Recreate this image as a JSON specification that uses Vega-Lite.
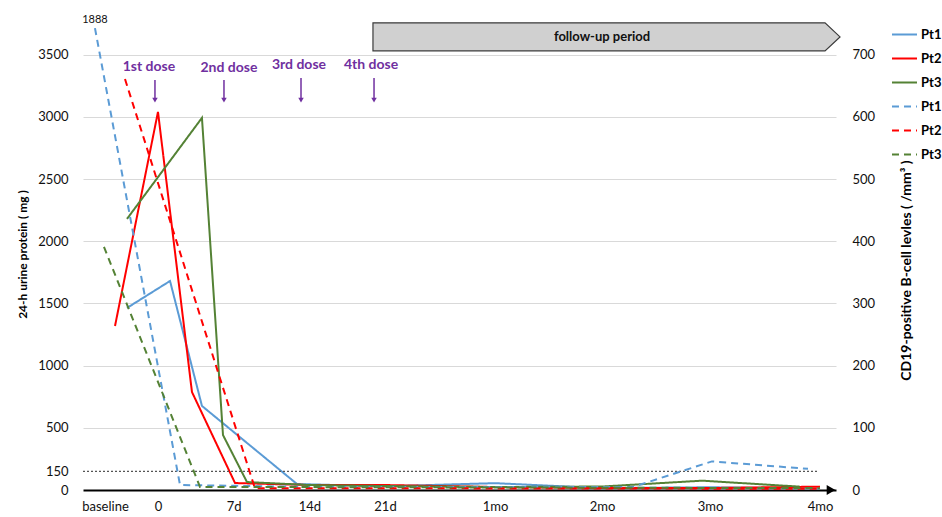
{
  "$schema": "https://vega.github.io/schema/vega-lite/v6.json",
  "width": 753,
  "height": 470,
  "autosize": {"type": "none"},
  "padding": {"left": 83, "top": 20, "right": 106, "bottom": 27},
  "config": {"view": {"stroke": null}, "font": "Lato", "background": "white"},
  "datasets": {
    "lines": [
      {"series": "Pt1 u", "t": -0.41, "value": 1464},
      {"series": "Pt1 u", "t": 0.159, "value": 1681},
      {"series": "Pt1 u", "t": 0.581, "value": 676},
      {"series": "Pt1 u", "t": 1.837, "value": 48},
      {"series": "Pt1 u", "t": 3, "value": 30},
      {"series": "Pt1 u", "t": 4.454, "value": 55},
      {"series": "Pt1 u", "t": 5.868, "value": 15},
      {"series": "Pt1 u", "t": 7.295, "value": 22},
      {"series": "Pt1 u", "t": 8.749, "value": 12},
      {"series": "Pt2 u", "t": -0.568, "value": 1319},
      {"series": "Pt2 u", "t": 0, "value": 3041},
      {"series": "Pt2 u", "t": 0.449, "value": 788},
      {"series": "Pt2 u", "t": 1.018, "value": 56},
      {"series": "Pt2 u", "t": 2, "value": 40},
      {"series": "Pt2 u", "t": 3, "value": 40},
      {"series": "Pt2 u", "t": 4.454, "value": 24},
      {"series": "Pt2 u", "t": 5.868, "value": 16},
      {"series": "Pt2 u", "t": 7.295, "value": 16},
      {"series": "Pt2 u", "t": 8.749, "value": 27},
      {"series": "Pt3 u", "t": -0.41, "value": 2180},
      {"series": "Pt3 u", "t": 0.581, "value": 2993},
      {"series": "Pt3 u", "t": 0.859, "value": 442},
      {"series": "Pt3 u", "t": 1.176, "value": 64},
      {"series": "Pt3 u", "t": 2, "value": 40},
      {"series": "Pt3 u", "t": 3, "value": 32},
      {"series": "Pt3 u", "t": 4.454, "value": 24},
      {"series": "Pt3 u", "t": 5.868, "value": 28},
      {"series": "Pt3 u", "t": 7.19, "value": 75},
      {"series": "Pt3 u", "t": 8.48, "value": 27}
    ],
    "bcell": [
      {"series": "Pt1 b", "t": -0.833, "value": 743},
      {"series": "Pt1 b", "t": 0.291, "value": 8},
      {"series": "Pt1 b", "t": 2, "value": 5},
      {"series": "Pt1 b", "t": 6.28, "value": 5},
      {"series": "Pt1 b", "t": 7.32, "value": 46},
      {"series": "Pt1 b", "t": 8.59, "value": 34},
      {"series": "Pt2 b", "t": -0.436, "value": 661},
      {"series": "Pt2 b", "t": 1.28, "value": 3},
      {"series": "Pt2 b", "t": 8.749, "value": 2},
      {"series": "Pt3 b", "t": -0.714, "value": 391},
      {"series": "Pt3 b", "t": 0.555, "value": 5},
      {"series": "Pt3 b", "t": 8.749, "value": 3}
    ],
    "doses": [
      {"label": "1st dose", "t": -0.119, "ty": 3403, "at": -0.04, "a1": 3298, "a2": 3135},
      {"label": "2nd dose", "t": 0.938, "ty": 3395, "at": 0.872, "a1": 3298, "a2": 3135},
      {"label": "3rd dose", "t": 1.863, "ty": 3419, "at": 1.89, "a1": 3314, "a2": 3135},
      {"label": "4th dose", "t": 2.815, "ty": 3419, "at": 2.855, "a1": 3314, "a2": 3135}
    ],
    "followup": [
      {"t": 2.841, "top": 3757, "bot": 3532},
      {"t": 8.815, "top": 3757, "bot": 3532},
      {"t": 9.013, "top": 3644, "bot": 3644}
    ]
  },
  "layer": [
    {
      "layer": [
        {
          "data": {"name": "lines"},
          "mark": {"type": "line", "strokeWidth": 2},
          "encoding": {
            "x": {
              "field": "t", "type": "quantitative",
              "scale": {"domain": [-0.991, 8.96], "nice": false, "zero": false},
              "axis": {
                "values": [-0.7, 0, 1, 2, 3, 4.454, 5.868, 7.295, 8.749],
                "labelExpr": "datum.value < -0.5 ? 'baseline' : datum.value < 0.5 ? '0' : datum.value < 1.5 ? '7d' : datum.value < 2.5 ? '14d' : datum.value < 3.5 ? '21d' : datum.value < 5 ? '1mo' : datum.value < 6.5 ? '2mo' : datum.value < 8 ? '3mo' : '4mo'",
                "title": null, "ticks": false, "grid": false,
                "domainColor": "#000000", "domainWidth": 2,
                "labelFont": "Lato", "labelFontSize": 13, "labelColor": "#111111",
                "labelPadding": 10, "labelFlush": false, "labelOverlap": false
              }
            },
            "y": {
              "field": "value", "type": "quantitative",
              "scale": {"domain": [0, 3780], "nice": false, "zero": false},
              "axis": {
                "orient": "left",
                "values": [0, 150, 500, 1000, 1500, 2000, 2500, 3000, 3500],
                "format": "d",
                "title": "24-h urine protein ( mg )",
                "titleFont": "Lato", "titleFontSize": 12, "titleFontWeight": "bold", "titleColor": "#000000",
                "titleAngle": -90, "titleBaseline": "middle", "titleAlign": "center", "titleX": -61, "titleY": 234,
                "labelFont": "Lato", "labelFontSize": 13, "labelColor": "#111111",
                "ticks": false, "domain": false, "labelPadding": 15, "labelOverlap": false,
                "grid": true, "gridWidth": 1,
                "gridColor": {"condition": {"test": "datum.value < 400", "value": "transparent"}, "value": "#d9d9d9"}
              }
            },
            "color": {
              "field": "series", "type": "nominal",
              "scale": {"domain": ["Pt1 u", "Pt2 u", "Pt3 u", "Pt1 b", "Pt2 b", "Pt3 b"], "range": ["#5b9bd5", "#ff0000", "#548235", "#5b9bd5", "#ff0000", "#548235"]},
              "legend": {"title": null, "orient": "none", "legendX": 808, "legendY": 1, "direction": "vertical", "symbolType": "stroke", "symbolSize": 625, "symbolStrokeWidth": 2, "labelFont": "Lato", "labelFontSize": 13, "labelFontWeight": "bold", "labelColor": "#000000", "rowPadding": 3, "labelOffset": 3, "labelExpr": "slice(datum.label, 0, 3)"}
            },
            "strokeDash": {
              "field": "series", "type": "nominal",
              "scale": {"domain": ["Pt1 u", "Pt2 u", "Pt3 u", "Pt1 b", "Pt2 b", "Pt3 b"], "range": [[1, 0], [1, 0], [1, 0], [7, 5], [7, 5], [7, 5]]},
              "legend": {"title": null, "orient": "none", "legendX": 808, "legendY": 1, "direction": "vertical", "symbolType": "stroke", "symbolSize": 625, "symbolStrokeWidth": 2, "labelFont": "Lato", "labelFontSize": 13, "labelFontWeight": "bold", "labelColor": "#000000", "rowPadding": 3, "labelOffset": 3, "labelExpr": "slice(datum.label, 0, 3)"}
            }
          }
        },
        {
          "data": {"name": "followup"},
          "mark": {"type": "area", "fill": "#d0d0d0", "stroke": "#3a3a3a", "strokeWidth": 1.2, "opacity": 1, "fillOpacity": 1},
          "encoding": {
            "x": {"field": "t", "type": "quantitative"},
            "y": {"field": "top", "type": "quantitative"},
            "y2": {"field": "bot"}
          }
        },
        {
          "data": {"values": [{"t": 5.868, "v": 3644, "label": "follow-up period"}]},
          "mark": {"type": "text", "font": "Lato", "fontSize": 13, "fontWeight": "bold", "color": "#111", "baseline": "middle", "align": "center"},
          "encoding": {
            "x": {"field": "t", "type": "quantitative"},
            "y": {"field": "v", "type": "quantitative"},
            "text": {"field": "label"}
          }
        },
        {
          "data": {"values": [{"t1": -0.991, "t2": 8.72, "v": 150}]},
          "mark": {"type": "rule", "color": "#555555", "strokeWidth": 1.2, "strokeDash": [2, 2]},
          "encoding": {
            "x": {"field": "t1", "type": "quantitative"},
            "x2": {"field": "t2"},
            "y": {"field": "v", "type": "quantitative"}
          }
        },
        {
          "data": {"name": "doses"},
          "mark": {"type": "text", "font": "Lato", "fontSize": 14, "fontWeight": "bold", "color": "#7030a0", "baseline": "middle", "align": "center"},
          "encoding": {
            "x": {"field": "t", "type": "quantitative"},
            "y": {"field": "ty", "type": "quantitative"},
            "text": {"field": "label"}
          }
        },
        {
          "data": {"name": "doses"},
          "mark": {"type": "rule", "color": "#7030a0", "strokeWidth": 1.5},
          "encoding": {
            "x": {"field": "at", "type": "quantitative"},
            "y": {"field": "a1", "type": "quantitative"},
            "y2": {"field": "a2"}
          }
        },
        {
          "data": {"name": "doses"},
          "mark": {"type": "point", "shape": "triangle-down", "filled": true, "color": "#7030a0", "size": 30, "opacity": 1},
          "encoding": {
            "x": {"field": "at", "type": "quantitative"},
            "y": {"field": "a2", "type": "quantitative"}
          }
        },
        {
          "data": {"values": [{"t": -0.833, "v": 3781, "label": "1888"}]},
          "mark": {"type": "text", "font": "Lato", "fontSize": 11, "color": "#111111", "baseline": "middle", "align": "center"},
          "encoding": {
            "x": {"field": "t", "type": "quantitative"},
            "y": {"field": "v", "type": "quantitative"},
            "text": {"field": "label"}
          }
        },
        {
          "data": {"values": [{"t": 8.894, "v": 0}]},
          "mark": {"type": "point", "shape": "triangle-right", "filled": true, "color": "#000000", "size": 100, "opacity": 1},
          "encoding": {
            "x": {"field": "t", "type": "quantitative"},
            "y": {"field": "v", "type": "quantitative"}
          }
        }
      ]
    },
    {
      "layer": [
        {
          "data": {"name": "bcell"},
          "mark": {"type": "line", "strokeWidth": 2},
          "encoding": {
            "x": {"field": "t", "type": "quantitative", "scale": {"domain": [-0.991, 8.96], "nice": false, "zero": false}},
            "y": {
              "field": "value", "type": "quantitative",
              "scale": {"domain": [0, 756], "nice": false, "zero": false},
              "axis": {
                "orient": "right",
                "values": [0, 100, 200, 300, 400, 500, 600, 700],
                "title": "CD19-positive B-cell levles ( /mm³ )",
                "titleFont": "Lato", "titleFontSize": 14, "titleFontWeight": "bold", "titleColor": "#000000",
                "titleAngle": 270, "titleBaseline": "middle", "titleAlign": "center", "titleX": 70, "titleY": 250,
                "labelFont": "Lato", "labelFontSize": 13, "labelColor": "#111111",
                "ticks": false, "domain": false, "grid": false, "labelPadding": 16, "labelOverlap": false
              }
            },
            "color": {
              "field": "series", "type": "nominal",
              "scale": {"domain": ["Pt1 u", "Pt2 u", "Pt3 u", "Pt1 b", "Pt2 b", "Pt3 b"], "range": ["#5b9bd5", "#ff0000", "#548235", "#5b9bd5", "#ff0000", "#548235"]},
              "legend": {"title": null, "orient": "none", "legendX": 808, "legendY": 1, "direction": "vertical", "symbolType": "stroke", "symbolSize": 625, "symbolStrokeWidth": 2, "labelFont": "Lato", "labelFontSize": 13, "labelFontWeight": "bold", "labelColor": "#000000", "rowPadding": 3, "labelOffset": 3, "labelExpr": "slice(datum.label, 0, 3)"}
            },
            "strokeDash": {
              "field": "series", "type": "nominal",
              "scale": {"domain": ["Pt1 u", "Pt2 u", "Pt3 u", "Pt1 b", "Pt2 b", "Pt3 b"], "range": [[1, 0], [1, 0], [1, 0], [7, 5], [7, 5], [7, 5]]},
              "legend": {"title": null, "orient": "none", "legendX": 808, "legendY": 1, "direction": "vertical", "symbolType": "stroke", "symbolSize": 625, "symbolStrokeWidth": 2, "labelFont": "Lato", "labelFontSize": 13, "labelFontWeight": "bold", "labelColor": "#000000", "rowPadding": 3, "labelOffset": 3, "labelExpr": "slice(datum.label, 0, 3)"}
            }
          }
        }
      ]
    }
  ],
  "resolve": {"scale": {"y": "independent"}}
}
